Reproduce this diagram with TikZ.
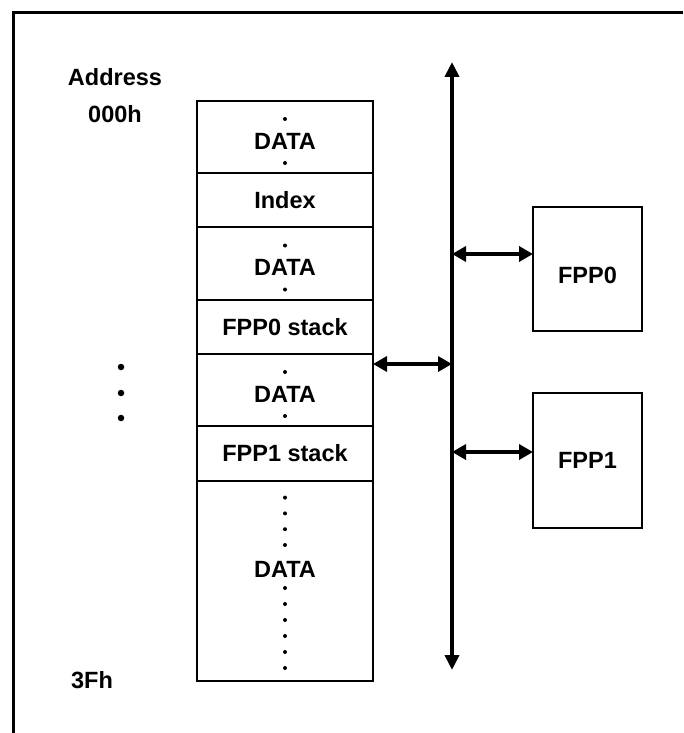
\documentclass[tikz,border=0pt]{standalone}
\usepackage{fontspec}
\setmainfont{Liberation Sans}
\usetikzlibrary{arrows.meta,positioning}

\begin{document}
\begin{tikzpicture}[x=1pt, y=-1pt,
    font=\fontsize{23.5}{28}\selectfont\bfseries,
    cell/.style={draw, line width=1.8pt, outer sep=0pt, inner sep=0pt, minimum width=176pt},
    unit/.style={draw, line width=1.8pt, outer sep=0pt, minimum width=109pt},
    busline/.style={line width=4.5pt, {Triangle[length=15pt,width=14pt]}-{Triangle[length=15pt,width=14pt]}},
    link/.style={line width=4.5pt, {Triangle[length=14pt,width=15pt]}-{Triangle[length=14pt,width=15pt]}},
    dot/.style={circle, fill, inner sep=0pt, minimum size=4pt},
    bigdot/.style={circle, fill, inner sep=0pt, minimum size=6.5pt}]
  \useasboundingbox (0,0) rectangle (683,733);
  % frame
  \draw[line width=3pt] (13.5,733) -- (13.5,12.5) -- (683,12.5);

  % address labels
  \node (addr) at (115,77) {Address};
  \node (first) at (115,114) {000h};
  \node (last) at (92,680) {3Fh};
  \foreach \y in {367,393,418}
    \node[bigdot] at (121,\y) {};

  % memory map
  \node[cell, minimum height=72pt] (data1) at (285,137) {};
  \node[cell, minimum height=54pt, below=0pt of data1] (index) {Index};
  \node[cell, minimum height=73pt, below=0pt of index] (data2) {};
  \node[cell, minimum height=54pt, below=0pt of data2] (stack0) {FPP0 stack};
  \node[cell, minimum height=72pt, below=0pt of stack0] (data3) {};
  \node[cell, minimum height=55pt, below=0pt of data3] (stack1) {FPP1 stack};
  \node[cell, minimum height=200pt, below=0pt of stack1] (data4) {};

  \foreach \n in {1,2,3} {
    \node (word\n) at ([yshift=-4pt]data\n.center) {DATA};
    \path (word\n) ++(0,-22) node[dot] {} (word\n) ++(0,22) node[dot] {};
  }
  \node (word4) at ([yshift=12pt]data4.center) {DATA};
  \foreach \k in {0,...,3}
    \path (word4) ++(0,-24-\k*15.8) node[dot] {};
  \foreach \k in {0,...,5}
    \path (word4) ++(0,19+\k*16) node[dot] {};

  % processors
  \node[unit, minimum height=124pt] (fpp0) at (587.5,269) {};
  \node (name0) at ([yshift=-6pt]fpp0.center) {FPP0};
  \node[unit, minimum height=135pt] (fpp1) at (587.5,460.5) {FPP1};

  % bus
  \coordinate (bustop) at (452,62);
  \coordinate (busbot) at (452,670);
  \draw[busline] (bustop) -- (busbot);

  \coordinate (tapmem) at (452,364);
  \coordinate (tap0) at (452,254);
  \coordinate (tap1) at (452,452);
  \draw[link] (data3.east |- tapmem) -- (tapmem);
  \draw[link] (tap0) -- (fpp0.west |- tap0);
  \draw[link] (tap1) -- (fpp1.west |- tap1);
\end{tikzpicture}
\end{document}
